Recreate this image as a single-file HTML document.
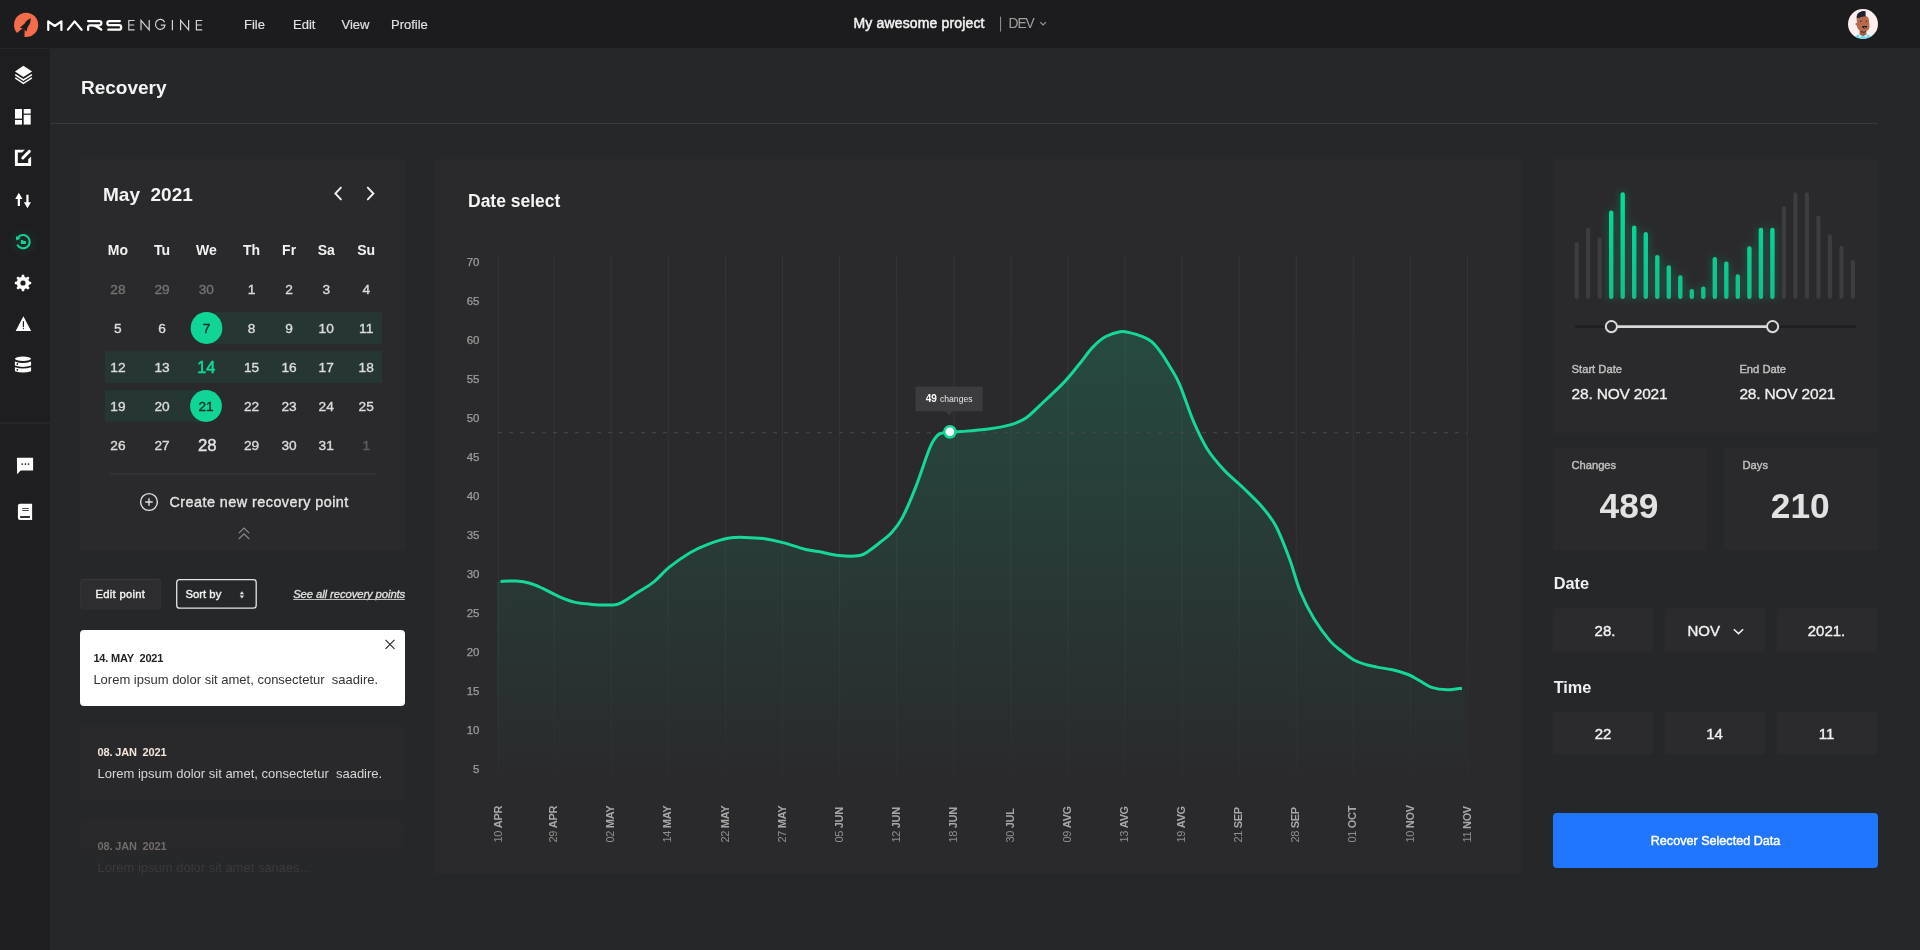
<!DOCTYPE html>
<html><head><meta charset="utf-8"><style>
*{margin:0;padding:0;box-sizing:border-box}
html,body{width:1920px;height:950px;overflow:hidden;background:#262729;font-family:"Liberation Sans",sans-serif}
.a{position:absolute}
svg text{font-family:"Liberation Sans",sans-serif;white-space:pre}
#ov{will-change:transform}
</style></head><body>
<svg id="ov" class="a" style="left:0;top:0" width="1920" height="950" viewBox="0 0 1920 950">
<rect x="0" y="0" width="1920" height="48" fill="#1c1c1e"/>
<rect x="0" y="49" width="50" height="901" fill="#1e1e20"/>
<circle cx="26.1" cy="24.9" r="12.1" fill="#f36c4b"/>
  <path d="M30.7,18.2 C28,19.3 25.8,21.2 24.7,23.4 L20,27.4 L22.3,28.4 L24.7,29.9 L26.4,31.6 L27.9,26.6 C29.8,24.5 30.8,21.5 30.7,18.2 Z" fill="#1c1c1e"/>
  <path d="M22.3,28.4 L17.3,32.8 L15,35.5 L24,39.5 L24.4,36.9 L24.7,29.9 Z" fill="#1c1c1e"/>
  <g fill="none" stroke="#ffffff" stroke-width="2.2" stroke-linecap="round" stroke-linejoin="round">
    <path d="M48.25,30 V21.3 L54.75,26 L61.4,21.3 V30"/>
    <path d="M67.9,29.6 L74.6,21.4 L81.6,29.8"/>
    <path d="M88.1,21.1 H99.3 A2.1,2.1 0 0 1 99.3,25.3 H90.3 Q88.1,25.3 88.1,27.5 V30 M91,25.3 Q96.5,25.5 101.3,29.7"/>
    <path d="M119.9,21.1 H109.4 A2.05,2.05 0 0 0 109.4,25.2 H119 A2.25,2.25 0 0 1 119,29.7 H108.2"/>
  </g>
  <g fill="none" stroke="#d4d4d4" stroke-width="1.2">
    <path d="M134.6,20.5 H128.8 V29.9 H134.6 M128.8,25 H134.2"/>
    <path d="M141,30.2 V20.4 L149.2,29.8 V19.9"/>
    <path d="M164.6,22.2 A4.8,5 0 1 0 165,25.1 H160.8"/>
    <path d="M172.4,20 V30.2"/>
    <path d="M180.6,30.2 V20.4 L188.6,29.8 V19.9"/>
    <path d="M202.2,20.5 H196.4 V29.9 H202.2 M196.4,25 H201.8"/>
  </g>
<text x="244.00" y="29.00" font-size="13.00" fill="#e2e2e2"  stroke="#e2e2e2" stroke-width="0.15">File</text>
<text x="293.00" y="29.00" font-size="13.00" fill="#e2e2e2"  stroke="#e2e2e2" stroke-width="0.15">Edit</text>
<text x="341.50" y="29.00" font-size="13.00" fill="#e2e2e2"  stroke="#e2e2e2" stroke-width="0.15">View</text>
<text x="391.00" y="29.00" font-size="13.00" fill="#e2e2e2"  stroke="#e2e2e2" stroke-width="0.15">Profile</text>
<text x="853.50" y="28.00" font-size="14.00" fill="#f2f2f2" letter-spacing="0.15" stroke="#f2f2f2" stroke-width="0.50">My awesome project</text>
<rect x="1000" y="16.6" width="1.1" height="15" fill="#8a8a8a"/>
<text x="1008.60" y="28.00" font-size="13.80" fill="#a0a0a0" letter-spacing="-1.1">DEV</text>
<path d="M1040.3,22.2 L1043.1,25 L1045.9,22.2" fill="none" stroke="#a0a0a0" stroke-width="1.1"/>
<g>
  <clipPath id="avc"><circle cx="1863" cy="24" r="15"/></clipPath>
  <circle cx="1863" cy="24" r="15" fill="#fcefef"/>
  <g clip-path="url(#avc)">
    <path d="M1859.6,28 H1866.4 V38 H1859.6 Z" fill="#a85d40"/><path d="M1861,31.6 Q1863.5,32.6 1866,31.4" fill="none" stroke="#1a1a1a" stroke-width="0.9"/>
    <path d="M1853,40 Q1855,35 1859.5,34.2 L1863,36 L1866.5,34.2 Q1871,35 1873,40 Z" fill="#6edbe9"/>
    <path d="M1859.5,34.2 L1861.5,36.5 L1859,37.5 Z M1866.5,34.2 L1864.5,36.5 L1867,37.5 Z" fill="#f4f4f4"/>
    <path d="M1856.5,18 Q1856,14 1860,12.5 Q1864,11 1865.5,12.5 L1865.8,16 Q1869,17 1869,21 L1869.5,27 Q1869,31 1864.5,31.5 Q1859,31.5 1857.5,28 L1856.8,25.5 Q1855,25 1855.5,23.5 Q1856,22.5 1857,23 Z" fill="#b86a4a"/>
    <path d="M1857,18.5 Q1856.3,13.5 1859.5,12.2 Q1863,10.5 1865.6,11.3 L1865.3,16.5 Q1861,16 1859,18 Z" fill="#1b2131"/>
    <path d="M1857,18.5 Q1859,17.5 1859.5,18 L1858.5,22 L1857,23 Z" fill="#9b7a6c"/>
    <path d="M1862,26 H1867.2 Q1867,28.6 1864.5,28.6 Q1862.3,28.6 1862,26 Z" fill="#1a1a1a"/>
    <path d="M1863.6,27.6 Q1864.8,27 1866,27.8 Q1865,28.7 1863.6,27.6 Z" fill="#e8889a"/>
    <circle cx="1860.8" cy="21.3" r="0.7" fill="#3a2018"/>
    <circle cx="1866.3" cy="21.3" r="0.6" fill="#3a2018"/>
  </g>
</g>
<text x="81.00" y="94.00" font-size="19.00" fill="#f4f4f4" font-weight="bold" >Recovery</text>
<rect x="50" y="123" width="1828" height="1" fill="#3b3b3d"/>
 <defs><radialGradient id="rg" cx="0.5" cy="0.5" r="0.5"><stop offset="0" stop-color="#14d497" stop-opacity="0.10"/><stop offset="1" stop-color="#14d497" stop-opacity="0"/></radialGradient></defs>
 <g fill="#ffffff">
  <!-- layers -->
  <path d="M23.4,65.8 L32.1,71.5 L23.4,77 L15,71.5 Z"/>
  <path d="M15.2,74.6 L23.4,80 L31.9,74.6" fill="none" stroke="#fff" stroke-width="1.5"/>
  <path d="M15.2,77.9 L23.4,83.3 L31.9,77.9" fill="none" stroke="#fff" stroke-width="1.5"/>
  <!-- dashboard -->
  <rect x="15" y="109" width="7" height="9.6"/>
  <rect x="15" y="120" width="7" height="4.6"/>
  <rect x="23.7" y="109" width="7" height="4.6"/>
  <rect x="23.7" y="114.8" width="7" height="9.8"/>
  <!-- edit -->
  <path d="M14.9,149.7 H24.9 L22.1,152.5 H17.8 V163 H28.2 V159.3 L31.1,156.4 V166.1 H14.9 Z"/>
  <path d="M22.8,158 L29.3,151.4" fill="none" stroke="#fff" stroke-width="3" stroke-linecap="round"/>
  <!-- arrows -->
  <path d="M18.85,192.8 L22.5,199 H19.95 V206 H17.75 V199 H15.2 Z"/>
  <path d="M27.45,208.2 L31,202.2 H28.55 V194.8 H26.35 V202.2 H23.9 Z"/>
 </g>
 <!-- recovery -->
 <circle cx="23.3" cy="242" r="16" fill="url(#rg)"/>
 <g fill="#14d497">
  <path d="M17.9,237.6 A6.6,6.6 0 1 1 17.2,244.6" fill="none" stroke="#14d497" stroke-width="2.1"/>
  <path d="M15.9,236 L16.2,240.6 L20.6,238.6 Z"/>
  <path d="M20.9,240.1 H22.8 L23.6,240.9 H25.9 V244.1 H20.9 Z"/>
 </g>
 <g fill="#ffffff">
  <!-- gear -->
  <path d="M21.36,277.23 L21.92,274.82 L24.08,274.82 L24.64,277.23 L25.92,277.76 L28.02,276.45 L29.55,277.98 L28.24,280.08 L28.77,281.36 L31.18,281.92 L31.18,284.08 L28.77,284.64 L28.24,285.92 L29.55,288.02 L28.02,289.55 L25.92,288.24 L24.64,288.77 L24.08,291.18 L21.92,291.18 L21.36,288.77 L20.08,288.24 L17.98,289.55 L16.45,288.02 L17.76,285.92 L17.23,284.64 L14.82,284.08 L14.82,281.92 L17.23,281.36 L17.76,280.08 L16.45,277.98 L17.98,276.45 L20.08,277.76 Z"/><circle cx="23" cy="283" r="6.1"/><circle cx="23" cy="283" r="2.6" fill="#1e1e20"/>
  <!-- warning -->
  <path d="M23.4,316.2 L31.1,330.9 H15.7 Z"/>
  <rect x="22.8" y="321.2" width="1.2" height="6" fill="#1e1e20"/>
  <circle cx="23.4" cy="328.6" r="0.7" fill="#1e1e20"/>
  <!-- database -->
  <ellipse cx="23" cy="358.7" rx="8.1" ry="2.2"/>
  <path d="M14.9,361.4 Q23,364.4 31.1,361.4 V365.6 Q23,368.4 14.9,365.6 Z"/>
  <path d="M14.9,367.2 Q23,370 31.1,367.2 V371.2 Q23,374 14.9,371.2 Z"/>
  <circle cx="17.3" cy="364" r="0.9" fill="#1e1e20"/>
  <circle cx="17.3" cy="369.8" r="0.9" fill="#1e1e20"/>
 </g>
 <rect x="0" y="422.5" width="50" height="1" fill="#2f2f31"/>
 <g fill="#ffffff">
  <!-- chat -->
  <path d="M16.9,457.7 H33.1 V470.4 H20.7 L17.1,474.2 Z"/>
  <circle cx="22.2" cy="464.1" r="0.85" fill="#1e1e20"/>
  <circle cx="25.4" cy="464.1" r="0.85" fill="#1e1e20"/>
  <circle cx="28.5" cy="464.1" r="0.85" fill="#1e1e20"/>
  <!-- book -->
  <path d="M20,503.7 H32.1 V520 H20 Q17.9,520 17.9,517.9 V505.8 Q17.9,503.7 20,503.7 Z"/>
  <rect x="22.2" y="508.1" width="6.6" height="0.8" fill="#1e1e20"/>
  <rect x="22.2" y="510.1" width="6.6" height="0.8" fill="#1e1e20"/>
  <rect x="20.1" y="516.1" width="9.8" height="1.8" fill="#1e1e20"/>
 </g>
<rect x="80" y="159" width="325" height="391" fill="#2a2a2c"/>
<text x="103.00" y="201.00" font-size="19.00" fill="#f4f4f4" font-weight="bold" >May&#160; 2021</text>
<path d="M340.9,187.6 L335.3,193.5 L340.9,199.4 M367.8,187.6 L373.4,193.5 L367.8,199.4" fill="none" stroke="#f0f0f0" stroke-width="1.9" stroke-linecap="round"/>
<rect x="206" y="312.2" width="176" height="31.7" fill="#263633"/>
<rect x="105" y="351.2" width="277" height="31.7" fill="#263633"/>
<rect x="105" y="390.1" width="101" height="31.7" fill="#263633"/>
<circle cx="206.5" cy="328" r="15.9" fill="#0fd597"/>
<circle cx="206" cy="406" r="15.9" fill="#0fd597"/>
<text x="117.90" y="255.00" font-size="14.00" fill="#f2f2f2" font-weight="bold" text-anchor="middle" >Mo</text>
<text x="162.00" y="255.00" font-size="14.00" fill="#f2f2f2" font-weight="bold" text-anchor="middle" >Tu</text>
<text x="206.30" y="255.00" font-size="14.00" fill="#f2f2f2" font-weight="bold" text-anchor="middle" >We</text>
<text x="251.50" y="255.00" font-size="14.00" fill="#f2f2f2" font-weight="bold" text-anchor="middle" >Th</text>
<text x="289.10" y="255.00" font-size="14.00" fill="#f2f2f2" font-weight="bold" text-anchor="middle" >Fr</text>
<text x="326.20" y="255.00" font-size="14.00" fill="#f2f2f2" font-weight="bold" text-anchor="middle" >Sa</text>
<text x="366.20" y="255.00" font-size="14.00" fill="#f2f2f2" font-weight="bold" text-anchor="middle" >Su</text>
<text x="117.90" y="294.00" font-size="13.70" fill="#737373" text-anchor="middle"  stroke="#737373" stroke-width="0.36">28</text>
<text x="162.00" y="294.00" font-size="13.70" fill="#737373" text-anchor="middle"  stroke="#737373" stroke-width="0.36">29</text>
<text x="206.30" y="294.00" font-size="13.70" fill="#737373" text-anchor="middle"  stroke="#737373" stroke-width="0.36">30</text>
<text x="251.50" y="294.00" font-size="13.70" fill="#dcdcdc" text-anchor="middle"  stroke="#dcdcdc" stroke-width="0.36">1</text>
<text x="289.10" y="294.00" font-size="13.70" fill="#dcdcdc" text-anchor="middle"  stroke="#dcdcdc" stroke-width="0.36">2</text>
<text x="326.20" y="294.00" font-size="13.70" fill="#dcdcdc" text-anchor="middle"  stroke="#dcdcdc" stroke-width="0.36">3</text>
<text x="366.20" y="294.00" font-size="13.70" fill="#dcdcdc" text-anchor="middle"  stroke="#dcdcdc" stroke-width="0.36">4</text>
<text x="117.90" y="333.00" font-size="13.70" fill="#dcdcdc" text-anchor="middle"  stroke="#dcdcdc" stroke-width="0.36">5</text>
<text x="162.00" y="333.00" font-size="13.70" fill="#dcdcdc" text-anchor="middle"  stroke="#dcdcdc" stroke-width="0.36">6</text>
<text x="206.50" y="333.00" font-size="13.70" fill="#1b2b26" text-anchor="middle"  stroke="#1b2b26" stroke-width="0.36">7</text>
<text x="251.50" y="333.00" font-size="13.70" fill="#dcdcdc" text-anchor="middle"  stroke="#dcdcdc" stroke-width="0.36">8</text>
<text x="289.10" y="333.00" font-size="13.70" fill="#dcdcdc" text-anchor="middle"  stroke="#dcdcdc" stroke-width="0.36">9</text>
<text x="326.20" y="333.00" font-size="13.70" fill="#dcdcdc" text-anchor="middle"  stroke="#dcdcdc" stroke-width="0.36">10</text>
<text x="366.20" y="333.00" font-size="13.70" fill="#dcdcdc" text-anchor="middle"  stroke="#dcdcdc" stroke-width="0.36">11</text>
<text x="117.90" y="372.00" font-size="13.70" fill="#dcdcdc" text-anchor="middle"  stroke="#dcdcdc" stroke-width="0.36">12</text>
<text x="162.00" y="372.00" font-size="13.70" fill="#dcdcdc" text-anchor="middle"  stroke="#dcdcdc" stroke-width="0.36">13</text>
<text x="206.30" y="373.00" font-size="16.30" fill="#12d497" text-anchor="middle"  stroke="#12d497" stroke-width="0.65">14</text>
<text x="251.50" y="372.00" font-size="13.70" fill="#dcdcdc" text-anchor="middle"  stroke="#dcdcdc" stroke-width="0.36">15</text>
<text x="289.10" y="372.00" font-size="13.70" fill="#dcdcdc" text-anchor="middle"  stroke="#dcdcdc" stroke-width="0.36">16</text>
<text x="326.20" y="372.00" font-size="13.70" fill="#dcdcdc" text-anchor="middle"  stroke="#dcdcdc" stroke-width="0.36">17</text>
<text x="366.20" y="372.00" font-size="13.70" fill="#dcdcdc" text-anchor="middle"  stroke="#dcdcdc" stroke-width="0.36">18</text>
<text x="117.90" y="411.00" font-size="13.70" fill="#dcdcdc" text-anchor="middle"  stroke="#dcdcdc" stroke-width="0.36">19</text>
<text x="162.00" y="411.00" font-size="13.70" fill="#dcdcdc" text-anchor="middle"  stroke="#dcdcdc" stroke-width="0.36">20</text>
<text x="206.00" y="411.00" font-size="13.70" fill="#1b2b26" text-anchor="middle"  stroke="#1b2b26" stroke-width="0.36">21</text>
<text x="251.50" y="411.00" font-size="13.70" fill="#dcdcdc" text-anchor="middle"  stroke="#dcdcdc" stroke-width="0.36">22</text>
<text x="289.10" y="411.00" font-size="13.70" fill="#dcdcdc" text-anchor="middle"  stroke="#dcdcdc" stroke-width="0.36">23</text>
<text x="326.20" y="411.00" font-size="13.70" fill="#dcdcdc" text-anchor="middle"  stroke="#dcdcdc" stroke-width="0.36">24</text>
<text x="366.20" y="411.00" font-size="13.70" fill="#dcdcdc" text-anchor="middle"  stroke="#dcdcdc" stroke-width="0.36">25</text>
<text x="117.90" y="450.00" font-size="13.70" fill="#dcdcdc" text-anchor="middle"  stroke="#dcdcdc" stroke-width="0.36">26</text>
<text x="162.00" y="450.00" font-size="13.70" fill="#dcdcdc" text-anchor="middle"  stroke="#dcdcdc" stroke-width="0.36">27</text>
<text x="207.30" y="451.00" font-size="16.80" fill="#e2e2e2" text-anchor="middle"  stroke="#e2e2e2" stroke-width="0.36">28</text>
<text x="251.50" y="450.00" font-size="13.70" fill="#dcdcdc" text-anchor="middle"  stroke="#dcdcdc" stroke-width="0.36">29</text>
<text x="289.10" y="450.00" font-size="13.70" fill="#dcdcdc" text-anchor="middle"  stroke="#dcdcdc" stroke-width="0.36">30</text>
<text x="326.20" y="450.00" font-size="13.70" fill="#dcdcdc" text-anchor="middle"  stroke="#dcdcdc" stroke-width="0.36">31</text>
<text x="366.20" y="450.00" font-size="13.70" fill="#5c5c5c" text-anchor="middle"  stroke="#5c5c5c" stroke-width="0.36">1</text>
<rect x="110" y="473.5" width="266" height="1" fill="#3b3b3d"/>
<circle cx="149" cy="502" r="8.4" fill="none" stroke="#e0e0e0" stroke-width="1.4"/><path d="M149,498.3 V505.7 M145.3,502 H152.7" stroke="#e0e0e0" stroke-width="1.4"/>
<text x="169.50" y="507.20" font-size="14.40" fill="#e4e4e4" letter-spacing="0.45" stroke="#e4e4e4" stroke-width="0.35">Create new recovery point</text>
<path d="M238.8,533.2 L244,528 L249.2,533.2 M238.8,539 L244,533.8 L249.2,539" fill="none" stroke="#8a8a8a" stroke-width="1.2"/><rect x="80.5" y="579.5" width="80" height="29.5" rx="2.5" fill="#2d2d2f" stroke="#323234" stroke-width="1"/><rect x="82" y="579" width="77" height="1" fill="#38383a"/>
<text x="95.50" y="598.00" font-size="11.20" fill="#f2f2f2" letter-spacing="0.3" stroke="#f2f2f2" stroke-width="0.40">Edit point</text>
<rect x="176.7" y="579.6" width="79.5" height="28.6" rx="3" fill="none" stroke="#e4e4e4" stroke-width="1.3"/>
<text x="185.50" y="598.00" font-size="11.30" fill="#f2f2f2"  stroke="#f2f2f2" stroke-width="0.40">Sort by</text>
<path d="M239.7,594.2 L241.9,591.2 L244.1,594.2 Z M239.7,595.6 L241.9,598.6 L244.1,595.6 Z" fill="#e0e0e0"/>
<text x="293.20" y="598.00" font-size="11.30" fill="#e2e2e2" font-style="italic" letter-spacing="-0.1" stroke="#e2e2e2" stroke-width="0.30">See all recovery points</text>
<rect x="293.2" y="599" width="111.7" height="1" fill="#bdbdbd"/>
<rect x="80" y="630" width="325" height="76" rx="4" fill="#ffffff"/>
<path d="M385.5,639.8 L394.5,648.8 M394.5,639.8 L385.5,648.8" stroke="#2a2a2a" stroke-width="1.15"/>
<text x="93.40" y="662.00" font-size="11.00" fill="#222222" font-weight="bold" letter-spacing="-0.2">14. MAY&#160; 2021</text>
<text x="93.40" y="684.00" font-size="13.00" fill="#333333" >Lorem ipsum dolor sit amet, consectetur&#160; saadire.</text>
<rect x="80" y="725.5" width="325" height="75" rx="4" fill="#29292b"/>
<text x="97.50" y="756.00" font-size="11.00" fill="#f4e4dc" font-weight="bold" letter-spacing="-0.15">08. JAN&#160; 2021</text>
<text x="97.50" y="778.00" font-size="13.00" fill="#d6d6d6" >Lorem ipsum dolor sit amet, consectetur&#160; saadire.</text>
<defs><linearGradient id="c3" x1="0" y1="0" x2="0" y2="1"><stop offset="0" stop-color="#29292b"/><stop offset="1" stop-color="#262729"/></linearGradient></defs>
<rect x="80" y="819.5" width="325" height="60" rx="4" fill="url(#c3)"/>
<text x="97.50" y="850.00" font-size="11.00" fill="#716c6a" font-weight="bold" letter-spacing="-0.15">08. JAN&#160; 2021</text>
<text x="97.50" y="872.00" font-size="13.00" fill="#3a3a3c" >Lorem ipsum dolor sit amet sanaes...</text><rect x="435" y="159" width="1086" height="715" fill="#2a2a2c"/>
<text x="468.00" y="207.00" font-size="17.50" fill="#f4f4f4" font-weight="bold" >Date select</text>
<defs><linearGradient id="gridg" x1="0" y1="255" x2="0" y2="777" gradientUnits="userSpaceOnUse"><stop offset="0" stop-color="#353538"/><stop offset="0.6" stop-color="#333336"/><stop offset="1" stop-color="#2d2d30"/></linearGradient><linearGradient id="gf" x1="0" y1="331" x2="0" y2="778" gradientUnits="userSpaceOnUse"><stop offset="0" stop-color="#14d497" stop-opacity="0.19"/><stop offset="1" stop-color="#14d497" stop-opacity="0"/></linearGradient></defs>
<rect x="497.90" y="255" width="1" height="522" fill="url(#gridg)"/>
<rect x="553.70" y="255" width="1" height="522" fill="url(#gridg)"/>
<rect x="610.78" y="255" width="1" height="522" fill="url(#gridg)"/>
<rect x="667.86" y="255" width="1" height="522" fill="url(#gridg)"/>
<rect x="724.94" y="255" width="1" height="522" fill="url(#gridg)"/>
<rect x="782.02" y="255" width="1" height="522" fill="url(#gridg)"/>
<rect x="839.10" y="255" width="1" height="522" fill="url(#gridg)"/>
<rect x="896.18" y="255" width="1" height="522" fill="url(#gridg)"/>
<rect x="953.26" y="255" width="1" height="522" fill="url(#gridg)"/>
<rect x="1010.34" y="255" width="1" height="522" fill="url(#gridg)"/>
<rect x="1067.42" y="255" width="1" height="522" fill="url(#gridg)"/>
<rect x="1124.50" y="255" width="1" height="522" fill="url(#gridg)"/>
<rect x="1181.58" y="255" width="1" height="522" fill="url(#gridg)"/>
<rect x="1238.66" y="255" width="1" height="522" fill="url(#gridg)"/>
<rect x="1295.74" y="255" width="1" height="522" fill="url(#gridg)"/>
<rect x="1352.82" y="255" width="1" height="522" fill="url(#gridg)"/>
<rect x="1409.90" y="255" width="1" height="522" fill="url(#gridg)"/>
<rect x="1466.98" y="255" width="1" height="522" fill="url(#gridg)"/>
<path d="M500.5,581.4 C503.1,581.3 511.4,580.8 516.3,581.0 C521.2,581.3 525.6,582.0 530.0,583.2 C534.4,584.4 537.9,586.2 542.6,588.4 C547.3,590.6 553.1,594.0 558.4,596.3 C563.7,598.6 568.9,600.8 574.2,602.1 C579.5,603.4 583.9,603.7 590.0,604.2 C596.1,604.7 605.9,605.2 611.0,605.0 C616.1,604.9 616.1,605.3 620.5,603.2 C624.9,601.1 631.8,596.2 637.4,592.6 C643.0,589.0 648.9,585.8 654.2,581.6 C659.5,577.4 663.0,572.2 669.0,567.4 C675.0,562.6 683.6,556.5 690.0,552.7 C696.4,548.9 700.9,547.0 707.2,544.6 C713.5,542.2 721.5,539.5 727.8,538.3 C734.1,537.1 739.1,537.3 745.0,537.4 C750.9,537.5 756.8,537.7 763.3,538.6 C769.8,539.5 777.1,541.1 784.0,542.9 C790.9,544.7 798.9,547.8 804.6,549.2 C810.3,550.6 812.6,550.5 818.3,551.5 C824.0,552.5 832.1,554.8 839.0,555.5 C845.9,556.2 854.6,556.3 859.6,555.5 C864.6,554.7 865.4,553.1 868.8,550.9 C872.2,548.7 876.4,545.3 880.2,542.3 C884.0,539.2 888.0,536.8 891.7,532.6 C895.4,528.5 898.6,524.8 902.5,517.4 C906.4,510.0 911.0,499.1 915.2,488.4 C919.4,477.7 924.9,460.8 927.8,453.0 C930.7,445.2 930.9,444.8 932.8,441.7 C934.7,438.6 936.2,435.8 939.1,434.1 C942.0,432.5 946.3,432.2 949.9,431.8 C953.5,431.4 954.2,432.1 960.6,431.6 C967.0,431.1 980.0,430.2 988.4,429.0 C996.8,427.8 1004.8,426.5 1011.1,424.6 C1017.4,422.7 1021.7,420.8 1026.3,417.7 C1030.9,414.6 1032.6,412.2 1038.9,406.3 C1045.2,400.4 1057.4,389.3 1064.2,382.1 C1071.0,374.9 1075.3,369.0 1080.0,363.2 C1084.7,357.4 1088.4,351.8 1092.6,347.4 C1096.8,343.0 1100.7,339.4 1105.3,336.8 C1109.9,334.2 1116.0,332.5 1120.0,331.8 C1124.0,331.1 1125.6,331.8 1129.5,332.6 C1133.4,333.4 1139.5,335.3 1143.2,336.8 C1146.9,338.3 1148.6,339.0 1151.6,341.6 C1154.6,344.2 1157.7,348.0 1161.0,352.6 C1164.3,357.2 1168.4,364.1 1171.6,369.5 C1174.8,374.9 1176.3,376.6 1180.0,385.3 C1183.7,394.0 1189.1,411.2 1193.7,421.9 C1198.3,432.5 1202.4,441.2 1207.4,449.2 C1212.4,457.2 1217.9,463.3 1223.8,469.7 C1229.7,476.1 1236.5,481.3 1242.9,487.5 C1249.3,493.7 1256.5,500.3 1262.0,506.7 C1267.5,513.1 1271.1,517.1 1275.7,525.8 C1280.3,534.4 1285.3,547.6 1289.4,558.6 C1293.5,569.6 1296.2,581.5 1300.3,591.5 C1304.4,601.5 1309.0,610.6 1314.0,618.8 C1319.0,627.0 1325.4,635.5 1330.0,640.9 C1334.6,646.3 1337.8,648.0 1341.7,651.1 C1345.6,654.2 1349.5,657.5 1353.4,659.7 C1357.3,661.9 1361.3,663.2 1365.2,664.4 C1369.1,665.6 1372.4,666.2 1376.9,667.1 C1381.5,668.0 1387.3,668.6 1392.5,669.8 C1397.7,671.0 1403.5,672.7 1408.1,674.5 C1412.6,676.3 1415.9,678.6 1419.8,680.8 C1423.7,682.9 1427.0,685.9 1431.6,687.4 C1436.2,688.9 1442.1,689.7 1447.2,689.8 C1452.3,689.9 1459.5,688.5 1462.0,688.2 L1462,688.2 L1465.5,690 L1465.5,778 L497,778 L497,581.4 Z" fill="url(#gf)"/>
<line x1="498" y1="432.7" x2="1467" y2="432.7" stroke="#48484a" stroke-width="1" stroke-dasharray="4,7"/>
<path d="M500.5,581.4 C503.1,581.3 511.4,580.8 516.3,581.0 C521.2,581.3 525.6,582.0 530.0,583.2 C534.4,584.4 537.9,586.2 542.6,588.4 C547.3,590.6 553.1,594.0 558.4,596.3 C563.7,598.6 568.9,600.8 574.2,602.1 C579.5,603.4 583.9,603.7 590.0,604.2 C596.1,604.7 605.9,605.2 611.0,605.0 C616.1,604.9 616.1,605.3 620.5,603.2 C624.9,601.1 631.8,596.2 637.4,592.6 C643.0,589.0 648.9,585.8 654.2,581.6 C659.5,577.4 663.0,572.2 669.0,567.4 C675.0,562.6 683.6,556.5 690.0,552.7 C696.4,548.9 700.9,547.0 707.2,544.6 C713.5,542.2 721.5,539.5 727.8,538.3 C734.1,537.1 739.1,537.3 745.0,537.4 C750.9,537.5 756.8,537.7 763.3,538.6 C769.8,539.5 777.1,541.1 784.0,542.9 C790.9,544.7 798.9,547.8 804.6,549.2 C810.3,550.6 812.6,550.5 818.3,551.5 C824.0,552.5 832.1,554.8 839.0,555.5 C845.9,556.2 854.6,556.3 859.6,555.5 C864.6,554.7 865.4,553.1 868.8,550.9 C872.2,548.7 876.4,545.3 880.2,542.3 C884.0,539.2 888.0,536.8 891.7,532.6 C895.4,528.5 898.6,524.8 902.5,517.4 C906.4,510.0 911.0,499.1 915.2,488.4 C919.4,477.7 924.9,460.8 927.8,453.0 C930.7,445.2 930.9,444.8 932.8,441.7 C934.7,438.6 936.2,435.8 939.1,434.1 C942.0,432.5 946.3,432.2 949.9,431.8 C953.5,431.4 954.2,432.1 960.6,431.6 C967.0,431.1 980.0,430.2 988.4,429.0 C996.8,427.8 1004.8,426.5 1011.1,424.6 C1017.4,422.7 1021.7,420.8 1026.3,417.7 C1030.9,414.6 1032.6,412.2 1038.9,406.3 C1045.2,400.4 1057.4,389.3 1064.2,382.1 C1071.0,374.9 1075.3,369.0 1080.0,363.2 C1084.7,357.4 1088.4,351.8 1092.6,347.4 C1096.8,343.0 1100.7,339.4 1105.3,336.8 C1109.9,334.2 1116.0,332.5 1120.0,331.8 C1124.0,331.1 1125.6,331.8 1129.5,332.6 C1133.4,333.4 1139.5,335.3 1143.2,336.8 C1146.9,338.3 1148.6,339.0 1151.6,341.6 C1154.6,344.2 1157.7,348.0 1161.0,352.6 C1164.3,357.2 1168.4,364.1 1171.6,369.5 C1174.8,374.9 1176.3,376.6 1180.0,385.3 C1183.7,394.0 1189.1,411.2 1193.7,421.9 C1198.3,432.5 1202.4,441.2 1207.4,449.2 C1212.4,457.2 1217.9,463.3 1223.8,469.7 C1229.7,476.1 1236.5,481.3 1242.9,487.5 C1249.3,493.7 1256.5,500.3 1262.0,506.7 C1267.5,513.1 1271.1,517.1 1275.7,525.8 C1280.3,534.4 1285.3,547.6 1289.4,558.6 C1293.5,569.6 1296.2,581.5 1300.3,591.5 C1304.4,601.5 1309.0,610.6 1314.0,618.8 C1319.0,627.0 1325.4,635.5 1330.0,640.9 C1334.6,646.3 1337.8,648.0 1341.7,651.1 C1345.6,654.2 1349.5,657.5 1353.4,659.7 C1357.3,661.9 1361.3,663.2 1365.2,664.4 C1369.1,665.6 1372.4,666.2 1376.9,667.1 C1381.5,668.0 1387.3,668.6 1392.5,669.8 C1397.7,671.0 1403.5,672.7 1408.1,674.5 C1412.6,676.3 1415.9,678.6 1419.8,680.8 C1423.7,682.9 1427.0,685.9 1431.6,687.4 C1436.2,688.9 1442.1,689.7 1447.2,689.8 C1452.3,689.9 1459.5,688.5 1462.0,688.2" fill="none" stroke="#16d699" stroke-width="3" stroke-linecap="butt"/>
<circle cx="949.9" cy="431.8" r="5.6" fill="#ffffff" stroke="#16d699" stroke-width="2.6"/>
<rect x="915.4" y="386.6" width="67.3" height="24.6" fill="#3c3c3e"/><path d="M945,411.2 L949,415 L953,411.2 Z" fill="#3c3c3e"/>
<text x="925.80" y="402.00" font-size="10.00" fill="#ffffff" font-weight="bold" >49</text>
<text x="940.00" y="402.00" font-size="8.60" fill="#e6e6e6" >changes</text>
<text x="479.50" y="266.00" font-size="11.50" fill="#9c9c9c" text-anchor="end"  stroke="#9c9c9c" stroke-width="0.25">70</text>
<text x="479.50" y="305.00" font-size="11.50" fill="#9c9c9c" text-anchor="end"  stroke="#9c9c9c" stroke-width="0.25">65</text>
<text x="479.50" y="344.00" font-size="11.50" fill="#9c9c9c" text-anchor="end"  stroke="#9c9c9c" stroke-width="0.25">60</text>
<text x="479.50" y="383.00" font-size="11.50" fill="#9c9c9c" text-anchor="end"  stroke="#9c9c9c" stroke-width="0.25">55</text>
<text x="479.50" y="422.00" font-size="11.50" fill="#9c9c9c" text-anchor="end"  stroke="#9c9c9c" stroke-width="0.25">50</text>
<text x="479.50" y="461.00" font-size="11.50" fill="#9c9c9c" text-anchor="end"  stroke="#9c9c9c" stroke-width="0.25">45</text>
<text x="479.50" y="500.00" font-size="11.50" fill="#9c9c9c" text-anchor="end"  stroke="#9c9c9c" stroke-width="0.25">40</text>
<text x="479.50" y="539.00" font-size="11.50" fill="#9c9c9c" text-anchor="end"  stroke="#9c9c9c" stroke-width="0.25">35</text>
<text x="479.50" y="578.00" font-size="11.50" fill="#9c9c9c" text-anchor="end"  stroke="#9c9c9c" stroke-width="0.25">30</text>
<text x="479.50" y="617.00" font-size="11.50" fill="#9c9c9c" text-anchor="end"  stroke="#9c9c9c" stroke-width="0.25">25</text>
<text x="479.50" y="656.00" font-size="11.50" fill="#9c9c9c" text-anchor="end"  stroke="#9c9c9c" stroke-width="0.25">20</text>
<text x="479.50" y="695.00" font-size="11.50" fill="#9c9c9c" text-anchor="end"  stroke="#9c9c9c" stroke-width="0.25">15</text>
<text x="479.50" y="734.00" font-size="11.50" fill="#9c9c9c" text-anchor="end"  stroke="#9c9c9c" stroke-width="0.25">10</text>
<text x="479.50" y="773.00" font-size="11.50" fill="#9c9c9c" text-anchor="end"  stroke="#9c9c9c" stroke-width="0.25">5</text>
<text transform="translate(501.50,842.4) rotate(-90)" font-size="11" letter-spacing="-0.35" fill="#8e8e8e">10 <tspan font-weight="bold" fill="#a8a8a8">APR</tspan></text>
<text transform="translate(557.30,842.4) rotate(-90)" font-size="11" letter-spacing="-0.35" fill="#8e8e8e">29 <tspan font-weight="bold" fill="#a8a8a8">APR</tspan></text>
<text transform="translate(614.38,842.4) rotate(-90)" font-size="11" letter-spacing="-0.35" fill="#8e8e8e">02 <tspan font-weight="bold" fill="#a8a8a8">MAY</tspan></text>
<text transform="translate(671.46,842.4) rotate(-90)" font-size="11" letter-spacing="-0.35" fill="#8e8e8e">14 <tspan font-weight="bold" fill="#a8a8a8">MAY</tspan></text>
<text transform="translate(728.54,842.4) rotate(-90)" font-size="11" letter-spacing="-0.35" fill="#8e8e8e">22 <tspan font-weight="bold" fill="#a8a8a8">MAY</tspan></text>
<text transform="translate(785.62,842.4) rotate(-90)" font-size="11" letter-spacing="-0.35" fill="#8e8e8e">27 <tspan font-weight="bold" fill="#a8a8a8">MAY</tspan></text>
<text transform="translate(842.70,842.4) rotate(-90)" font-size="11" letter-spacing="-0.35" fill="#8e8e8e">05 <tspan font-weight="bold" fill="#a8a8a8">JUN</tspan></text>
<text transform="translate(899.78,842.4) rotate(-90)" font-size="11" letter-spacing="-0.35" fill="#8e8e8e">12 <tspan font-weight="bold" fill="#a8a8a8">JUN</tspan></text>
<text transform="translate(956.86,842.4) rotate(-90)" font-size="11" letter-spacing="-0.35" fill="#8e8e8e">18 <tspan font-weight="bold" fill="#a8a8a8">JUN</tspan></text>
<text transform="translate(1013.94,842.4) rotate(-90)" font-size="11" letter-spacing="-0.35" fill="#8e8e8e">30 <tspan font-weight="bold" fill="#a8a8a8">JUL</tspan></text>
<text transform="translate(1071.02,842.4) rotate(-90)" font-size="11" letter-spacing="-0.35" fill="#8e8e8e">09 <tspan font-weight="bold" fill="#a8a8a8">AVG</tspan></text>
<text transform="translate(1128.10,842.4) rotate(-90)" font-size="11" letter-spacing="-0.35" fill="#8e8e8e">13 <tspan font-weight="bold" fill="#a8a8a8">AVG</tspan></text>
<text transform="translate(1185.18,842.4) rotate(-90)" font-size="11" letter-spacing="-0.35" fill="#8e8e8e">19 <tspan font-weight="bold" fill="#a8a8a8">AVG</tspan></text>
<text transform="translate(1242.26,842.4) rotate(-90)" font-size="11" letter-spacing="-0.35" fill="#8e8e8e">21 <tspan font-weight="bold" fill="#a8a8a8">SEP</tspan></text>
<text transform="translate(1299.34,842.4) rotate(-90)" font-size="11" letter-spacing="-0.35" fill="#8e8e8e">28 <tspan font-weight="bold" fill="#a8a8a8">SEP</tspan></text>
<text transform="translate(1356.42,842.4) rotate(-90)" font-size="11" letter-spacing="-0.35" fill="#8e8e8e">01 <tspan font-weight="bold" fill="#a8a8a8">OCT</tspan></text>
<text transform="translate(1413.50,842.4) rotate(-90)" font-size="11" letter-spacing="-0.35" fill="#8e8e8e">10 <tspan font-weight="bold" fill="#a8a8a8">NOV</tspan></text>
<text transform="translate(1470.58,842.4) rotate(-90)" font-size="11" letter-spacing="-0.35" fill="#8e8e8e">11 <tspan font-weight="bold" fill="#a8a8a8">NOV</tspan></text><rect x="1553" y="159" width="325" height="274" fill="#2a2a2c"/>
<defs><filter id="gl" x="1540" y="150" width="340" height="180" filterUnits="userSpaceOnUse"><feGaussianBlur stdDeviation="4"/></filter><linearGradient id="bg1" x1="0" y1="190" x2="0" y2="299" gradientUnits="userSpaceOnUse"><stop offset="0" stop-color="#00e09c"/><stop offset="1" stop-color="#11bf8a"/></linearGradient></defs>
<g filter="url(#gl)" opacity="0.22"><line x1="1611.2" y1="210.4" x2="1611.2" y2="299" stroke="#14d497" stroke-width="7"/><line x1="1622.7" y1="192.3" x2="1622.7" y2="299" stroke="#14d497" stroke-width="7"/><line x1="1634.2" y1="225.5" x2="1634.2" y2="299" stroke="#14d497" stroke-width="7"/><line x1="1645.8" y1="232.0" x2="1645.8" y2="299" stroke="#14d497" stroke-width="7"/><line x1="1657.3" y1="254.9" x2="1657.3" y2="299" stroke="#14d497" stroke-width="7"/><line x1="1668.8" y1="265.2" x2="1668.8" y2="299" stroke="#14d497" stroke-width="7"/><line x1="1680.3" y1="275.2" x2="1680.3" y2="299" stroke="#14d497" stroke-width="7"/><line x1="1691.8" y1="289.0" x2="1691.8" y2="299" stroke="#14d497" stroke-width="7"/><line x1="1703.3" y1="286.4" x2="1703.3" y2="299" stroke="#14d497" stroke-width="7"/><line x1="1714.8" y1="257.0" x2="1714.8" y2="299" stroke="#14d497" stroke-width="7"/><line x1="1726.3" y1="261.4" x2="1726.3" y2="299" stroke="#14d497" stroke-width="7"/><line x1="1737.8" y1="274.3" x2="1737.8" y2="299" stroke="#14d497" stroke-width="7"/><line x1="1749.4" y1="246.3" x2="1749.4" y2="299" stroke="#14d497" stroke-width="7"/><line x1="1760.9" y1="227.7" x2="1760.9" y2="299" stroke="#14d497" stroke-width="7"/><line x1="1772.4" y1="227.7" x2="1772.4" y2="299" stroke="#14d497" stroke-width="7"/></g>
<line x1="1576.7" y1="244.0" x2="1576.7" y2="296.8" stroke="#3d3d3f" stroke-width="4.2" stroke-linecap="round"/>
<line x1="1588.2" y1="229.8" x2="1588.2" y2="296.8" stroke="#3d3d3f" stroke-width="4.2" stroke-linecap="round"/>
<line x1="1599.7" y1="239.3" x2="1599.7" y2="296.8" stroke="#3d3d3f" stroke-width="4.2" stroke-linecap="round"/>
<line x1="1611.2" y1="212.6" x2="1611.2" y2="296.8" stroke="url(#bg1)" stroke-width="4.4" stroke-linecap="round"/>
<line x1="1622.7" y1="194.5" x2="1622.7" y2="296.8" stroke="url(#bg1)" stroke-width="4.4" stroke-linecap="round"/>
<line x1="1634.2" y1="227.7" x2="1634.2" y2="296.8" stroke="url(#bg1)" stroke-width="4.4" stroke-linecap="round"/>
<line x1="1645.8" y1="234.2" x2="1645.8" y2="296.8" stroke="url(#bg1)" stroke-width="4.4" stroke-linecap="round"/>
<line x1="1657.3" y1="257.1" x2="1657.3" y2="296.8" stroke="url(#bg1)" stroke-width="4.4" stroke-linecap="round"/>
<line x1="1668.8" y1="267.4" x2="1668.8" y2="296.8" stroke="url(#bg1)" stroke-width="4.4" stroke-linecap="round"/>
<line x1="1680.3" y1="277.4" x2="1680.3" y2="296.8" stroke="url(#bg1)" stroke-width="4.4" stroke-linecap="round"/>
<line x1="1691.8" y1="291.2" x2="1691.8" y2="296.8" stroke="url(#bg1)" stroke-width="4.4" stroke-linecap="round"/>
<line x1="1703.3" y1="288.6" x2="1703.3" y2="296.8" stroke="url(#bg1)" stroke-width="4.4" stroke-linecap="round"/>
<line x1="1714.8" y1="259.2" x2="1714.8" y2="296.8" stroke="url(#bg1)" stroke-width="4.4" stroke-linecap="round"/>
<line x1="1726.3" y1="263.6" x2="1726.3" y2="296.8" stroke="url(#bg1)" stroke-width="4.4" stroke-linecap="round"/>
<line x1="1737.8" y1="276.5" x2="1737.8" y2="296.8" stroke="url(#bg1)" stroke-width="4.4" stroke-linecap="round"/>
<line x1="1749.4" y1="248.5" x2="1749.4" y2="296.8" stroke="url(#bg1)" stroke-width="4.4" stroke-linecap="round"/>
<line x1="1760.9" y1="229.9" x2="1760.9" y2="296.8" stroke="url(#bg1)" stroke-width="4.4" stroke-linecap="round"/>
<line x1="1772.4" y1="229.9" x2="1772.4" y2="296.8" stroke="url(#bg1)" stroke-width="4.4" stroke-linecap="round"/>
<line x1="1783.9" y1="208.2" x2="1783.9" y2="296.8" stroke="#3d3d3f" stroke-width="4.2" stroke-linecap="round"/>
<line x1="1795.4" y1="194.4" x2="1795.4" y2="296.8" stroke="#3d3d3f" stroke-width="4.2" stroke-linecap="round"/>
<line x1="1806.9" y1="194.4" x2="1806.9" y2="296.8" stroke="#3d3d3f" stroke-width="4.2" stroke-linecap="round"/>
<line x1="1818.4" y1="217.7" x2="1818.4" y2="296.8" stroke="#3d3d3f" stroke-width="4.2" stroke-linecap="round"/>
<line x1="1829.9" y1="236.3" x2="1829.9" y2="296.8" stroke="#3d3d3f" stroke-width="4.2" stroke-linecap="round"/>
<line x1="1841.4" y1="247.9" x2="1841.4" y2="296.8" stroke="#3d3d3f" stroke-width="4.2" stroke-linecap="round"/>
<line x1="1852.9" y1="262.1" x2="1852.9" y2="296.8" stroke="#3d3d3f" stroke-width="4.2" stroke-linecap="round"/>
<line x1="1575.3" y1="326.6" x2="1856.4" y2="326.6" stroke="#202022" stroke-width="2.6"/>
<line x1="1611.4" y1="326.6" x2="1772.6" y2="326.6" stroke="#d9d9d9" stroke-width="2.8"/>
<circle cx="1611.4" cy="326.6" r="5.6" fill="#2a2a2c" stroke="#d9d9d9" stroke-width="2"/>
<circle cx="1772.6" cy="326.6" r="5.6" fill="#2a2a2c" stroke="#d9d9d9" stroke-width="2"/>
<text x="1571.60" y="373.00" font-size="11.20" fill="#c0c0c0"  stroke="#c0c0c0" stroke-width="0.40">Start Date</text>
<text x="1571.60" y="399.00" font-size="15.50" fill="#f0f0f0" letter-spacing="-0.2" stroke="#f0f0f0" stroke-width="0.30">28. NOV 2021</text>
<text x="1739.40" y="373.00" font-size="11.20" fill="#c0c0c0"  stroke="#c0c0c0" stroke-width="0.40">End Date</text>
<text x="1739.40" y="399.00" font-size="15.50" fill="#f0f0f0" letter-spacing="-0.2" stroke="#f0f0f0" stroke-width="0.30">28. NOV 2021</text>
<rect x="1553" y="448" width="154" height="102" fill="#2a2a2c"/>
<rect x="1724" y="448" width="154" height="102" fill="#2a2a2c"/>
<text x="1571.40" y="469.00" font-size="11.20" fill="#c0c0c0"  stroke="#c0c0c0" stroke-width="0.40">Changes</text>
<text x="1742.50" y="469.00" font-size="11.20" fill="#c0c0c0"  stroke="#c0c0c0" stroke-width="0.40">Days</text>
<text x="1629.00" y="518.30" font-size="35.30" fill="#e2e2e2" font-weight="bold" text-anchor="middle" >489</text>
<text x="1800.30" y="518.30" font-size="35.30" fill="#e2e2e2" font-weight="bold" text-anchor="middle" >210</text>
<text x="1553.70" y="589.00" font-size="16.30" fill="#f0f0f0" font-weight="bold" >Date</text>
<text x="1553.70" y="692.50" font-size="16.30" fill="#f0f0f0" font-weight="bold" >Time</text>
<rect x="1553" y="608.3" width="100" height="43.5" fill="#2b2b2d"/>
<rect x="1553" y="711.3" width="100" height="43.5" fill="#2b2b2d"/>
<rect x="1665" y="608.3" width="100" height="43.5" fill="#2b2b2d"/>
<rect x="1665" y="711.3" width="100" height="43.5" fill="#2b2b2d"/>
<rect x="1777" y="608.3" width="100" height="43.5" fill="#2b2b2d"/>
<rect x="1777" y="711.3" width="100" height="43.5" fill="#2b2b2d"/>
<text x="1605.00" y="636.30" font-size="15.00" fill="#f0f0f0" text-anchor="middle"  stroke="#f0f0f0" stroke-width="0.40">28.</text>
<text x="1687.50" y="636.30" font-size="15.00" fill="#f0f0f0"  stroke="#f0f0f0" stroke-width="0.40">NOV</text>
<path d="M1733.8,629.2 L1738.5,633.6 L1743.2,629.2" fill="none" stroke="#f0f0f0" stroke-width="1.5"/>
<text x="1826.50" y="636.30" font-size="15.00" fill="#f0f0f0" text-anchor="middle"  stroke="#f0f0f0" stroke-width="0.40">2021.</text>
<text x="1603.00" y="739.30" font-size="15.00" fill="#f0f0f0" text-anchor="middle"  stroke="#f0f0f0" stroke-width="0.40">22</text>
<text x="1714.50" y="739.30" font-size="15.00" fill="#f0f0f0" text-anchor="middle"  stroke="#f0f0f0" stroke-width="0.40">14</text>
<text x="1826.50" y="739.30" font-size="15.00" fill="#f0f0f0" text-anchor="middle"  stroke="#f0f0f0" stroke-width="0.40">11</text>
<rect x="1553" y="813" width="325" height="55" rx="4" fill="#2176ff"/>
<text x="1715.50" y="845.00" font-size="12.60" fill="#ffffff" text-anchor="middle"  stroke="#ffffff" stroke-width="0.45">Recover Selected Data</text>
</svg>
</body></html>
